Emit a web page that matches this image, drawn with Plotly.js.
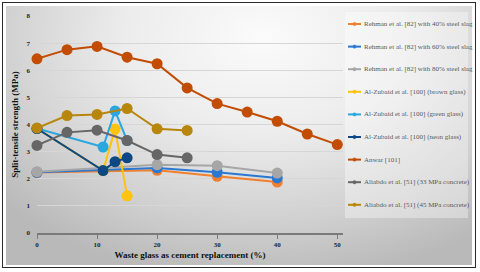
<!DOCTYPE html>
<html>
<head>
<meta charset="utf-8">
<script src="https://cdn.plot.ly/plotly-3.0.1.min.js"></script>
<style>
  html, body { margin: 0; padding: 0; background: #ffffff; }
  #wrap { position: relative; width: 480px; height: 272px; overflow: hidden; background: #ffffff; }
  #frame { position: absolute; left: 2px; top: 2px; width: 474px; height: 266px; box-sizing: border-box; border: 1.5px solid #2b2b2b; }
  #bg { position: absolute; left: 6px; top: 6px; width: 466px; height: 259px;
        background: radial-gradient(ellipse 75% 95% at 55% 12%, #fbfbfb 0%, #ececec 40%, #d0d0d0 75%, #b9b9b9 100%); }
  #chart { position: absolute; left: 0; top: 0; width: 480px; height: 272px; }
</style>
</head>
<body>
<div id="wrap">
  <div id="frame"></div>
  <div id="bg"></div>
  <div id="chart"></div>
</div>
<script>
// ---- data ----
var seriesNames = [
  "Rehman et al. [82] with 40% steel slag",
  "Rehman et al. [82] with 60% steel slag",
  "Rehman et al. [82] with 80% steel slag",
  "Al-Zubaid et al. [100] (brown glass)",
  "Al-Zubaid et al. [100] (green glass)",
  "Al-Zubaid et al. [100] (neon glass)",
  "Anwar [101]",
  "Aliabdo et al. [51] (33 MPa concrete)",
  "Aliabdo et al. [51] (45 MPa concrete)"
];
var xRehman = [0, 20, 30, 40];
var rehman40 = [2.23, 2.31, 2.09, 1.88];
var rehman60 = [2.24, 2.40, 2.24, 2.03];
var rehman80 = [2.26, 2.52, 2.48, 2.21];
var xZubaid = [0, 11, 13, 15];
var zubaidBrown = [3.85, 2.30, 3.83, 1.37];
var zubaidGreen = [3.85, 3.17, 4.50, 3.41];
var zubaidNeon = [3.85, 2.30, 2.63, 2.77];
var xAnwar = [0, 5, 10, 15, 20, 25, 30, 35, 40, 45, 50];
var anwar = [6.42, 6.76, 6.88, 6.48, 6.24, 5.35, 4.77, 4.46, 4.12, 3.65, 3.26];
var xAliabdo = [0, 5, 10, 15, 20, 25];
var aliabdo33 = [3.23, 3.71, 3.79, 3.41, 2.89, 2.77];
var aliabdo45 = [3.87, 4.33, 4.37, 4.59, 3.84, 3.78];
var xTicks = [0, 10, 20, 30, 40, 50];
var yTicks = [0, 1, 2, 3, 4, 5, 6, 7, 8];

// ---- styles ----
var colors = ["#F0802E", "#2A78D2", "#A6A6A6", "#FFC20E", "#2AA6E0", "#0B4884", "#C24C02", "#666666", "#B8860B"];
var xs = [xRehman, xRehman, xRehman, xZubaid, xZubaid, xZubaid, xAnwar, xAliabdo, xAliabdo];
var ys = [rehman40, rehman60, rehman80, zubaidBrown, zubaidGreen, zubaidNeon, anwar, aliabdo33, aliabdo45];

var serif = "Liberation Serif, Times New Roman, serif";
var traces = [];
for (var i = 0; i < seriesNames.length; i++) {
  traces.push({
    type: "scatter", mode: "lines+markers", name: seriesNames[i],
    x: xs[i], y: ys[i], showlegend: false, cliponaxis: false,
    line: { color: colors[i], width: 2 },
    marker: { color: colors[i], size: 11 },
    hoverinfo: "skip"
  });
}

// plot geometry (px) used for the hand-made legend
var W = 480, H = 272, mL = 37, mR = 137, mT = 16, mB = 39;
var pw = W - mL - mR, ph = H - mT - mB;
function px2x(p) { return (p - mL) / pw; }
function py2y(p) { return (H - mB - p) / ph; }

var shapes = [{
  type: "rect", xref: "paper", yref: "paper", layer: "below",
  x0: px2x(345), x1: px2x(468), y0: py2y(218), y1: py2y(12),
  fillcolor: "rgba(255,255,255,0.35)", line: { width: 0 }
}];
var annotations = [];
for (var j = 0; j < seriesNames.length; j++) {
  var yy = 24 + j * 22.6;
  shapes.push({ type: "line", xref: "paper", yref: "paper",
    x0: px2x(348), x1: px2x(361), y0: py2y(yy), y1: py2y(yy),
    line: { color: colors[j], width: 2 } });
  shapes.push({ type: "circle", xref: "paper", yref: "paper",
    x0: px2x(352.8), x1: px2x(356.2), y0: py2y(yy - 1.7), y1: py2y(yy + 1.7),
    fillcolor: colors[j], line: { color: colors[j], width: 0.5 } });
  annotations.push({ xref: "paper", yref: "paper", x: px2x(361.5), y: py2y(yy),
    xanchor: "left", yanchor: "middle", showarrow: false, text: seriesNames[j],
    font: { family: serif, size: 7, color: "#595959" } });
}

var layout = {
  width: W, height: H,
  margin: { l: mL, r: mR, t: mT, b: mB, pad: 0 },
  paper_bgcolor: "rgba(0,0,0,0)", plot_bgcolor: "rgba(0,0,0,0)",
  showlegend: false,
  xaxis: {
    range: [0, 50.95], tickvals: xTicks, ticktext: xTicks.map(String),
    showgrid: false, zeroline: false, showline: true, linecolor: "#7a7a7a", linewidth: 1.5,
    ticks: "outside", ticklen: 4, tickcolor: "#7a7a7a", tickwidth: 1,
    tickfont: { family: serif, size: 7, color: "#262626", weight: "bold" },
    title: { text: "Waste glass as cement replacement (%)", standoff: 4,
             font: { family: serif, size: 9, color: "#111111", weight: "bold" } }
  },
  yaxis: {
    range: [0, 8], tickvals: yTicks, ticktext: yTicks.map(String),
    showgrid: true, gridcolor: "#d6d6d6", gridwidth: 1, zeroline: false, showline: false,
    ticks: "", ticklabelstandoff: 6,
    tickfont: { family: serif, size: 7, color: "#262626", weight: "bold" },
    title: { text: "Split-tensile strength (MPa)", standoff: 6,
             font: { family: serif, size: 9, color: "#111111", weight: "bold" } }
  },
  shapes: shapes,
  annotations: annotations
};

Plotly.newPlot("chart", traces, layout, { displayModeBar: false, staticPlot: true });
</script>
</body>
</html>
